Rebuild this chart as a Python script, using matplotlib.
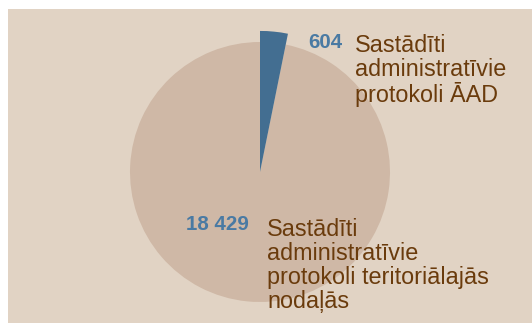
import matplotlib
matplotlib.use("Agg")
import matplotlib.pyplot as plt
from matplotlib.patches import Rectangle

values = [604, 18429]
value_labels = ["604", "18 429"]
labels = ["Sastādīti\nadministratīvie\nprotokoli ĀAD",
          "Sastādīti\nadministratīvie\nprotokoli teritoriālajās\nnodaļās"]
colors = ["#436e91", "#cfb8a6"]

W, H = 532, 323
fig = plt.figure(figsize=(W / 100, H / 100), dpi=100)
fig.patch.set_facecolor("white")
bg = fig.add_axes([8 / W, 0, 1 - 8 / W, 1 - 9 / H], zorder=0)
bg.set_facecolor("#e1d3c4")
bg.set_xticks([]); bg.set_yticks([])
for s in bg.spines.values():
    s.set_visible(False)

# pie: centre (260,172) px from top-left, radius 130 px
cx, cy, r = 260, 172, 130
half = 1.2 * r
ax = fig.add_axes([(cx - half) / W, (H - cy - half) / H, 2 * half / W, 2 * half / H],
                  zorder=1)
ax.axis("off")
ax.patch.set_alpha(0)
wedges, _ = ax.pie(values, colors=colors, startangle=90, counterclock=False,
                   radius=1, wedgeprops=dict(edgecolor="none"))
wedges[0].set_radius(1.085)
wedges[0].set_zorder(3)
ax.set_xlim(-1.2, 1.2)
ax.set_ylim(-1.2, 1.2)

def px(x, y):
    return x / W, 1 - y / H

fam = ["Liberation Sans", "DejaVu Sans"]
num_color = "#4a7aa3"
lab_color = "#6a3b0c"
num_pos = [(342, 48), (249, 230)]
lab_pos = [(355, 34), (267, 218)]
for i in range(2):
    fig.text(*px(*num_pos[i]), value_labels[i], ha="right", va="baseline",
             fontsize=14.8, fontweight="bold", color=num_color, family=fam, zorder=5)
    fig.text(*px(*lab_pos[i]), labels[i], ha="left", va="top", fontsize=16.8,
             color=lab_color, linespacing=1.05, family=fam, zorder=5)

fig.savefig("out.png", dpi=100)
